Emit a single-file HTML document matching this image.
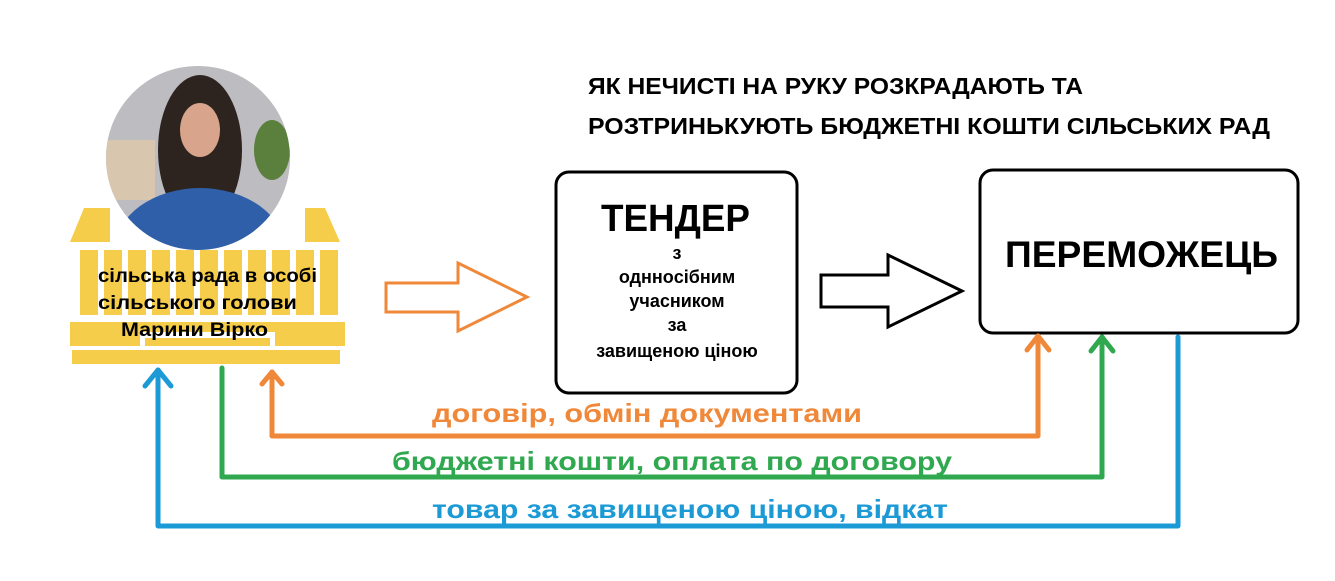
<!DOCTYPE html>
<html><head><meta charset="utf-8"><style>
html,body{margin:0;padding:0;background:#fff}
body{width:1335px;height:581px;position:relative;overflow:hidden;font-family:"Liberation Sans",sans-serif}
</style></head><body>
<svg width="1335" height="581" viewBox="0 0 1335 581" style="position:absolute;left:0;top:0">
<defs>
<clipPath id="c"><circle cx="198" cy="158" r="92"/></clipPath>
</defs>
<g fill="#f6cd4a">
<polygon points="70,242 84,208 110,208 110,242"/>
<polygon points="305,242 305,208 325,208 340,242"/>
<rect x="80" y="250" width="18" height="65"/>
<rect x="104" y="250" width="18" height="65"/>
<rect x="128" y="250" width="18" height="65"/>
<rect x="152" y="250" width="18" height="65"/>
<rect x="176" y="250" width="18" height="65"/>
<rect x="200" y="250" width="18" height="65"/>
<rect x="224" y="250" width="18" height="65"/>
<rect x="248" y="250" width="18" height="65"/>
<rect x="272" y="250" width="18" height="65"/>
<rect x="296" y="250" width="18" height="65"/>
<rect x="320" y="250" width="18" height="65"/>
<rect x="70" y="322" width="70" height="24"/>
<rect x="275" y="322" width="70" height="24"/>
<rect x="140" y="322" width="135" height="10"/>
<rect x="72" y="350" width="268" height="14"/>
<rect x="145" y="338" width="125" height="8"/>
</g>
<circle cx="198" cy="158" r="92" fill="#b9b9bd"/>
<g clip-path="url(#c)">
<rect x="100" y="60" width="200" height="200" fill="#bdbcc0"/>
<rect x="100" y="140" width="55" height="60" fill="#d9c6ae"/>
<ellipse cx="200" cy="150" rx="42" ry="75" fill="#2d2420"/>
<ellipse cx="200" cy="130" rx="20" ry="27" fill="#d8a48c"/>
<ellipse cx="200" cy="250" rx="85" ry="62" fill="#2e5fa8"/>
<ellipse cx="272" cy="150" rx="18" ry="30" fill="#5b7f3c"/>
</g>
<polygon points="386,283 458,283 458,263 527,297 458,331 458,312 386,312" fill="#fff" stroke="#f0883a" stroke-width="3"/>
<polygon points="821,275 888,275 888,255 962,291 888,327 888,307 821,307" fill="#fff" stroke="#000" stroke-width="3"/>
<rect x="556" y="172" width="241" height="221" rx="13" fill="#fff" stroke="#000" stroke-width="3"/>
<rect x="980" y="170" width="318" height="163" rx="13" fill="#fff" stroke="#000" stroke-width="3"/>
<g fill="none" stroke-width="5" stroke-linecap="round" stroke-linejoin="round">
<polyline points="272,372 272,436 1038,436 1038,336" stroke="#f0883a"/>
<polyline points="262,384 272,372 282,384" stroke="#f0883a"/>
<polyline points="1027,350 1038,336 1049,350" stroke="#f0883a"/>
<polyline points="222,368 222,477 1102,477 1102,337" stroke="#2fa84f"/>
<polyline points="1091,351 1102,337 1113,351" stroke="#2fa84f"/>
<polyline points="158,370 158,526 1178,526 1178,337" stroke="#1b9ad6"/>
<polyline points="145,386 158,370 171,386" stroke="#1b9ad6"/>
</g>
<g font-family="Liberation Sans, sans-serif" font-weight="bold" fill="#000">
<text x="588" y="94" font-size="23" textLength="495" lengthAdjust="spacingAndGlyphs">ЯК НЕЧИСТІ НА РУКУ РОЗКРАДАЮТЬ ТА</text>
<text x="588" y="134" font-size="23" textLength="682" lengthAdjust="spacingAndGlyphs">РОЗТРИНЬКУЮТЬ БЮДЖЕТНІ КОШТИ СІЛЬСЬКИХ РАД</text>
<text x="601" y="231" font-size="38" textLength="149" lengthAdjust="spacingAndGlyphs">ТЕНДЕР</text>
<g font-size="18" text-anchor="middle">
<text x="677" y="259">з</text>
<text x="677" y="283">одннoсібним</text>
<text x="677" y="307">учасником</text>
<text x="677" y="331">за</text>
<text x="677" y="357">завищеною ціною</text>
</g>
<text x="1005" y="267" font-size="37" textLength="273" lengthAdjust="spacingAndGlyphs">ПЕРЕМОЖЕЦЬ</text>
<text x="98" y="282" font-size="19" textLength="219" lengthAdjust="spacingAndGlyphs">сільська рада в особі</text>
<text x="98" y="309" font-size="19" textLength="199" lengthAdjust="spacingAndGlyphs">сільського голови</text>
<text x="121" y="336" font-size="19" textLength="147" lengthAdjust="spacingAndGlyphs">Марини Вірко</text>
<text x="432" y="422" font-size="26" fill="#f0883a" textLength="430" lengthAdjust="spacingAndGlyphs">договір, обмін документами</text>
<text x="392" y="470" font-size="26" fill="#2fa84f" textLength="560" lengthAdjust="spacingAndGlyphs">бюджетні кошти, оплата по договору</text>
<text x="432" y="518" font-size="26" fill="#1b9ad6" textLength="516" lengthAdjust="spacingAndGlyphs">товар за завищеною ціною, відкат</text>
</g>
</svg>
</body></html>
